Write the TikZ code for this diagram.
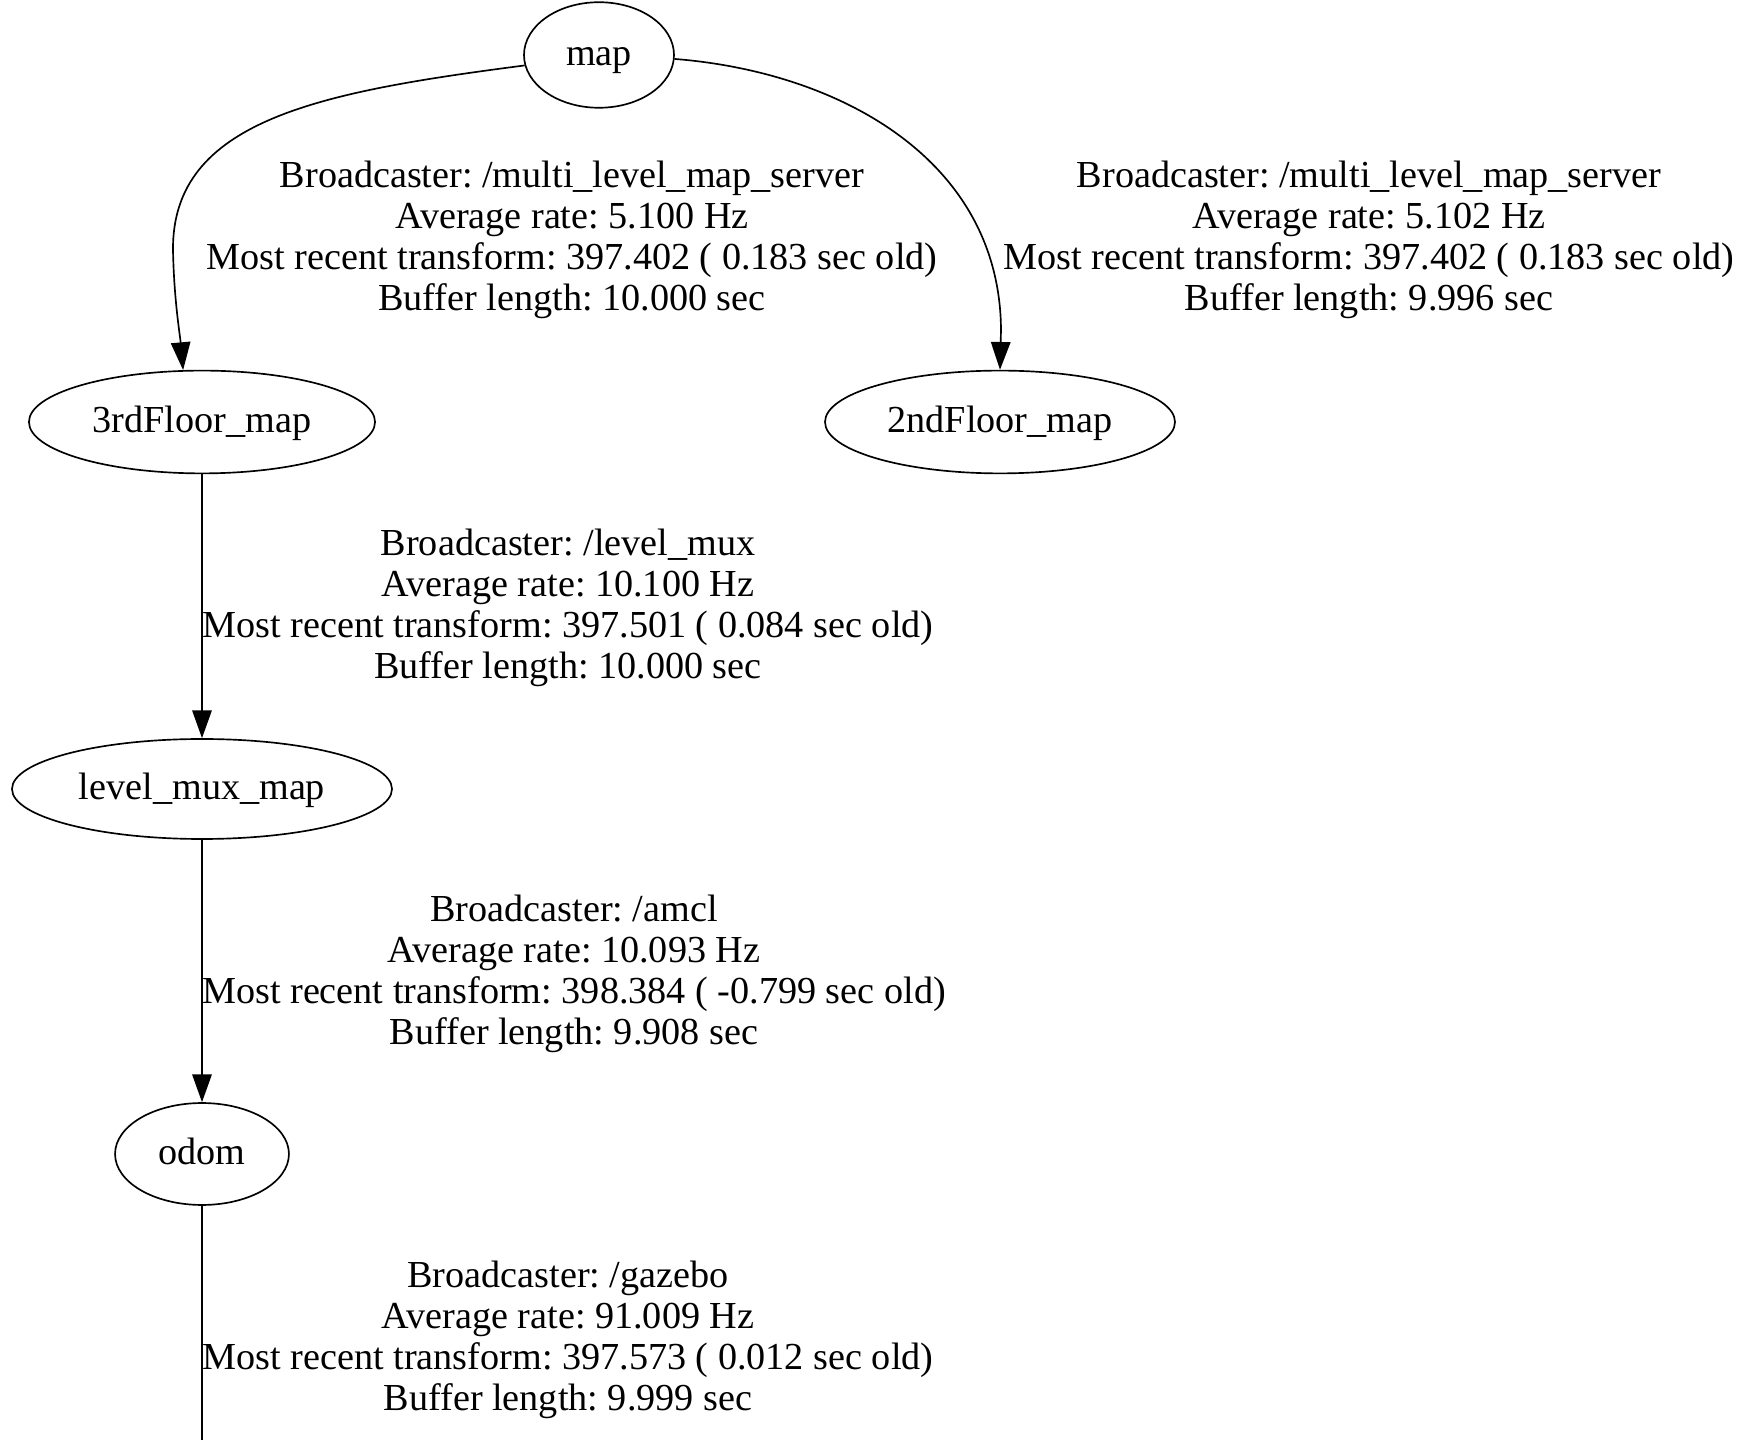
\documentclass[tikz,border=0pt]{standalone}
\usepackage{fontspec}
\setmainfont{Liberation Serif}
\usetikzlibrary{arrows.meta,shapes.geometric}
\begin{document}
\frenchspacing
\begin{tikzpicture}[x=0.36pt,y=-0.36pt,
  frame/.style={draw=black,line width=0.6pt,ellipse,inner sep=0pt,text height=10.8pt,text depth=3pt,font=\fontsize{13.75}{14.7}\selectfont},
  edge/.style={draw=black,line width=0.6pt,-{Triangle[length=10pt,width=7pt]}},
  plain/.style={draw=black,line width=0.6pt},
  lbl/.style={align=center,inner sep=0pt,font=\fontsize{13.75}{14.7}\selectfont}]
\useasboundingbox[fill=white] (0,0) rectangle (1742,1440);
\node[frame,minimum width=54pt,minimum height=38pt] (map) at (599,55) {map};
\node[frame,minimum width=124.6pt,minimum height=37pt] (f3) at (202,422) {3rdFloor\_map};
\node[frame,minimum width=126pt,minimum height=37pt] (f2) at (1000,422) {2ndFloor\_map};
\node[frame,minimum width=136.8pt,minimum height=36pt] (lvl) at (202,789) {level\_mux\_map};
\node[frame,minimum width=62.6pt,minimum height=36.7pt] (odom) at (202,1154) {odom};
\coordinate (bot) at (202,1445);
\draw[edge] (map.188) .. controls (320,92) and (172,120) .. (173,250) .. controls (174,300) and (180,335) .. (f3.110);
\draw[edge] (map.357) .. controls (840,72) and (1000,160) .. (1001,330) -- (f2.north);
\draw[edge] (f3) -- (lvl);
\draw[edge] (lvl) -- (odom);
\draw[plain] (odom) -- (bot);
\node[lbl] (l1) at (572,240) {Broadcaster: /multi\_level\_map\_server\\Average rate: 5.100 Hz\\Most recent transform: 397.402 ( 0.183 sec old)\\Buffer length: 10.000 sec};
\node[lbl] (l2) at (1369,240) {Broadcaster: /multi\_level\_map\_server\\Average rate: 5.102 Hz\\Most recent transform: 397.402 ( 0.183 sec old)\\Buffer length: 9.996 sec};
\node[lbl] (l3) at (568,608) {Broadcaster: /level\_mux\\Average rate: 10.100 Hz\\Most recent transform: 397.501 ( 0.084 sec old)\\Buffer length: 10.000 sec};
\node[lbl] (l4) at (574,974) {Broadcaster: /amcl\\Average rate: 10.093 Hz\\Most recent transform: 398.384 ( -0.799 sec old)\\Buffer length: 9.908 sec};
\node[lbl] (l5) at (568,1340) {Broadcaster: /gazebo\\Average rate: 91.009 Hz\\Most recent transform: 397.573 ( 0.012 sec old)\\Buffer length: 9.999 sec};
\end{tikzpicture}
\end{document}
